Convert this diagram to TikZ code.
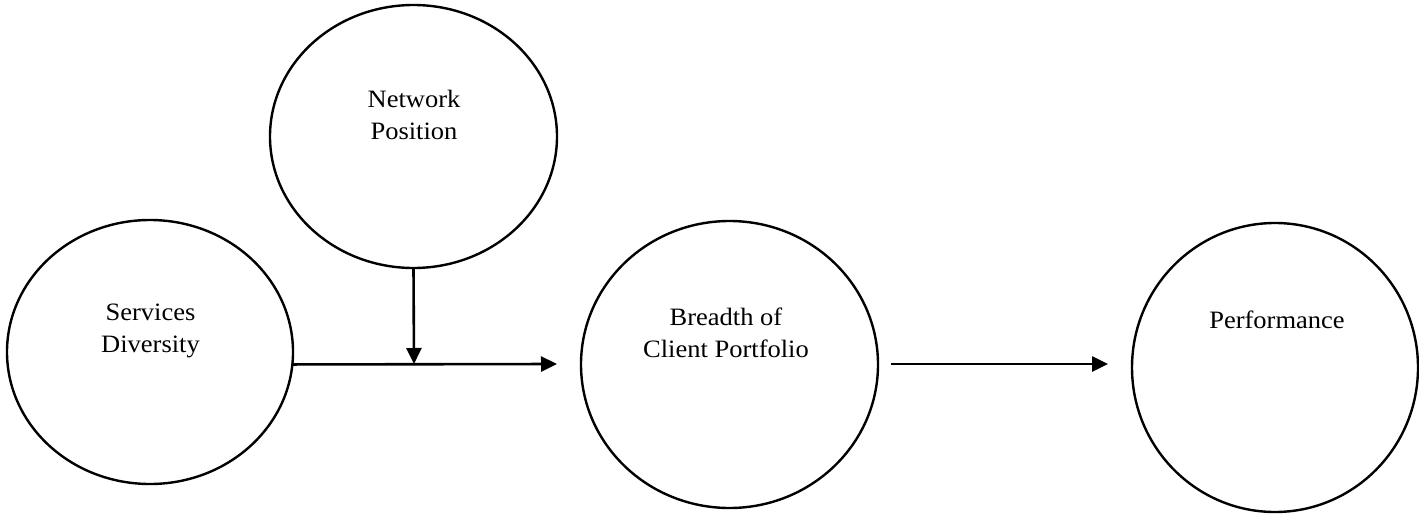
\documentclass[tikz,border=0pt]{standalone}
\usepackage{fontspec}
\setmainfont{Liberation Serif}[FakeStretch=1.06]
\usetikzlibrary{shapes.geometric,arrows.meta}
\tikzset{
  oval/.style={ellipse,draw,line width=2.4pt,inner sep=0pt,outer sep=0pt},
  lbl/.style={anchor=north,align=center,inner sep=0pt,font=\fontsize{25}{32}\selectfont},
  conn/.style={line width=2.6pt,-{Triangle[length=16pt,width=15pt]}}
}
\begin{document}
\begin{tikzpicture}[x=1pt,y=-1pt]
\useasboundingbox (0,0) rectangle (1419,517);
\node[oval,minimum width=287pt,minimum height=263pt] (nw) at (413.5,136.5) {};
\node[oval,minimum width=286pt,minimum height=264pt] (sd) at (150,352) {};
\node[oval,minimum width=297pt,minimum height=287pt] (bc) at (729.5,364.5) {};
\node[oval,minimum width=286pt,minimum height=289pt] (pf) at (1275,367.5) {};
\node[lbl] (nwt) at (414,90) {Network\\Position};
\node[lbl] (sdt) at (150.5,303.7) {Services\\Diversity};
\node[lbl] (bct) at (726,307.5) {Breadth of\\Client Portfolio};
\node[lbl] (pft) at (1277,311) {Performance};
\coordinate (e1) at (557,364);
\coordinate (j) at (414,364);
\coordinate (s2) at (891,364);
\coordinate (e2) at (1108,364);
\draw[conn] (sd.-5) -- (e1);
\draw[conn] (nw.south) -- (j);
\draw[conn] (s2) -- (e2);
\end{tikzpicture}
\end{document}
